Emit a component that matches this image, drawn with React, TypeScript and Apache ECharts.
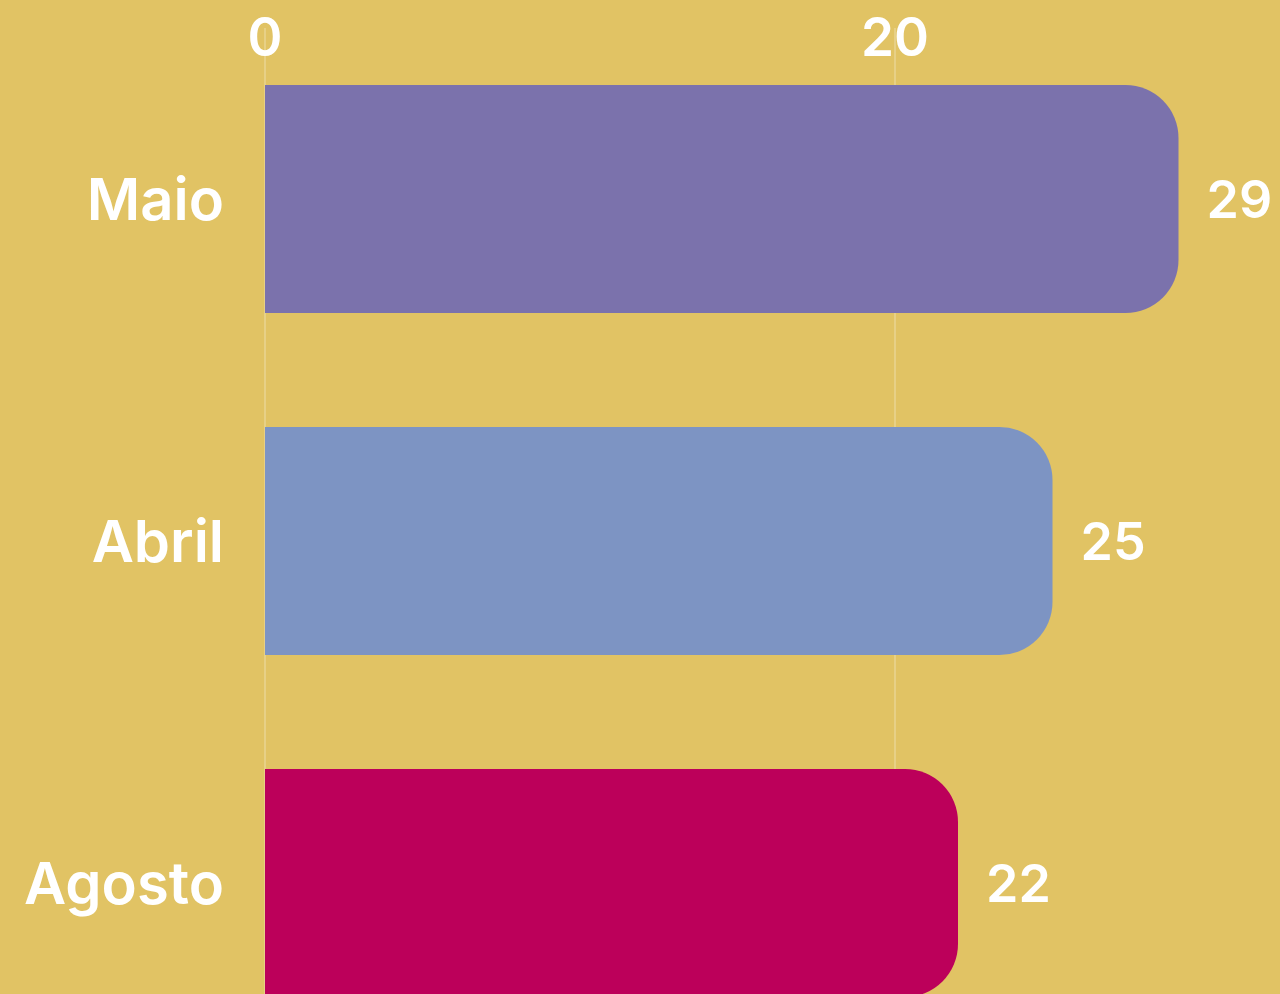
import React, { useEffect, useRef } from "react";
import * as echarts from "echarts";

const categories = ["Maio", "Abril", "Agosto"];
const values = [29, 25, 22];
const barColors = ["#7B72AC", "#7D94C3", "#BC005A"];
const FONT = "Inter, 'Open Sans', sans-serif";

export default function App() {
  const ref = useRef<HTMLDivElement>(null);
  useEffect(() => {
    if (!ref.current) return;
    const chart = echarts.init(ref.current, null, { renderer: "svg" });
    chart.setOption({
      animation: false,
      backgroundColor: "#E1C364",
      grid: {
        left: 265,
        top: 28,
        width: 1260,
        height: 1026,
        containLabel: false,
        outerBoundsMode: "none",
      },
      xAxis: {
        type: "value",
        position: "top",
        min: 0,
        max: 40,
        interval: 20,
        axisLine: { show: false },
        axisTick: { show: false },
        splitLine: { show: true, lineStyle: { color: "rgba(255,255,255,0.3)", width: 1.5 } },
        axisLabel: {
          color: "#FFFFFF",
          fontFamily: FONT,
          fontWeight: 600,
          fontSize: 53,
          margin: -9,
          verticalAlign: "middle",
          showMaxLabel: false,
        },
      },
      yAxis: {
        type: "category",
        data: categories,
        inverse: true,
        axisLine: { show: false },
        axisTick: { show: false },
        axisLabel: {
          color: "#FFFFFF",
          fontFamily: FONT,
          fontWeight: 600,
          fontSize: 58,
          margin: 41,
        },
      },
      series: [
        {
          type: "bar",
          barCategoryGap: "33.33%",
          z: 3,
          data: values.map((v, i) => ({
            value: v,
            itemStyle: { color: barColors[i], borderRadius: [0, 53, 53, 0] },
          })),
          label: {
            show: true,
            position: "right",
            distance: 28,
            color: "#FFFFFF",
            fontFamily: FONT,
            fontWeight: 600,
            fontSize: 52,
          },
        },
      ],
    });
    return () => chart.dispose();
  }, []);
  return (
    <div
      ref={ref}
      style={{ position: "fixed", left: 0, top: 0, width: 1280, height: 994 }}
    />
  );
}
